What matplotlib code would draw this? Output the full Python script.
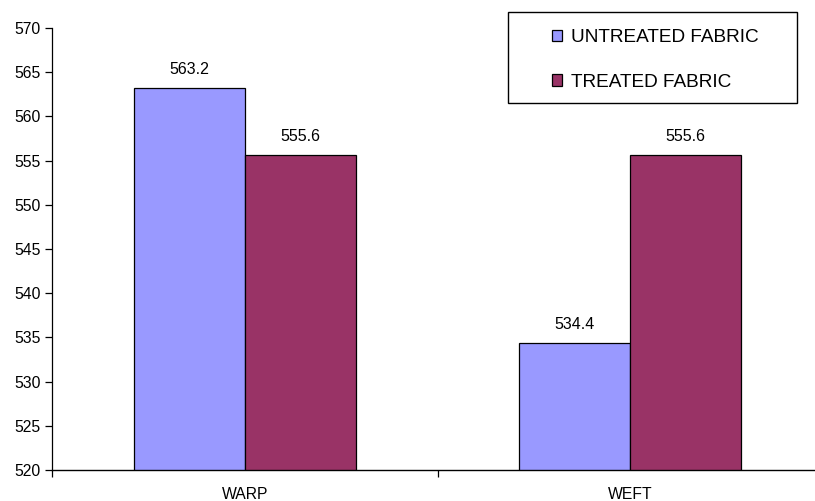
import matplotlib
matplotlib.use("Agg")
import matplotlib.pyplot as plt
from matplotlib.patches import Rectangle
import numpy as np

plt.rcParams['font.family'] = ['Liberation Sans', 'DejaVu Sans']

categories = ["WARP", "WEFT"]
series_names = ["UNTREATED FABRIC", "TREATED FABRIC"]
untreated = [563.2, 534.4]
treated = [555.6, 555.6]
value_labels_untreated = ["563.2", "534.4"]
value_labels_treated = ["555.6", "555.6"]
y_ticks = [520, 525, 530, 535, 540, 545, 550, 555, 560, 565, 570]

colors = ["#9999FF", "#993366"]

W, H = 815, 501
fig = plt.figure(figsize=(W / 100, H / 100), dpi=100)
left, right, top, bottom = 52, 823, 28, 470
ax = fig.add_axes([left / W, 1 - bottom / H, (right - left) / W, (bottom - top) / H])

x = np.arange(len(categories))
bw = 0.288
b1 = ax.bar(x - bw / 2, untreated, bw, color=colors[0], edgecolor="black", linewidth=0.9,
            label=series_names[0], zorder=2)
b2 = ax.bar(x + bw / 2, treated, bw, color=colors[1], edgecolor="black", linewidth=0.9,
            label=series_names[1], zorder=2)

for bars, labels in ((b1, value_labels_untreated), (b2, value_labels_treated)):
    for rect, lab in zip(bars, labels):
        ax.annotate(lab, (rect.get_x() + rect.get_width() / 2, rect.get_height()),
                    xytext=(0, 8), textcoords="offset points", ha="center", va="bottom",
                    fontsize=11.5)

ax.set_ylim(520, 570)
ax.set_xlim(-0.5, 1.5)
ax.set_yticks(y_ticks)
ax.set_yticklabels([str(v) for v in y_ticks], fontsize=11.3)
ax.set_xticks(x)
ax.set_xticklabels(categories, fontsize=11.3)
ax.set_xticks([-0.5, 0.5, 1.5], minor=True)
ax.tick_params(axis="x", which="major", length=0, pad=12)
ax.tick_params(axis="x", which="minor", length=5, width=0.9, direction="out")
ax.tick_params(axis="y", length=5, width=0.9, direction="out", pad=3)
for s in ("top", "right"):
    ax.spines[s].set_visible(False)
ax.spines["left"].set_linewidth(0.9)
ax.spines["bottom"].set_linewidth(1.0)

# legend box
fig.patches.append(Rectangle((508 / W, 1 - 103 / H), (797 - 508) / W, (103 - 12) / H,
                             transform=fig.transFigure, facecolor="white",
                             edgecolor="black", linewidth=1.0, zorder=3))
leg = fig.legend(handles=[b1, b2], labels=series_names, loc="center",
                 bbox_to_anchor=(655 / W, 1 - 60 / H), frameon=False, fontsize=13.7,
                 handlelength=0.55, handleheight=0.55, handletextpad=0.45,
                 labelspacing=1.46, borderpad=0)
leg.set_zorder(4)

fig.savefig("out.png", dpi=100)
